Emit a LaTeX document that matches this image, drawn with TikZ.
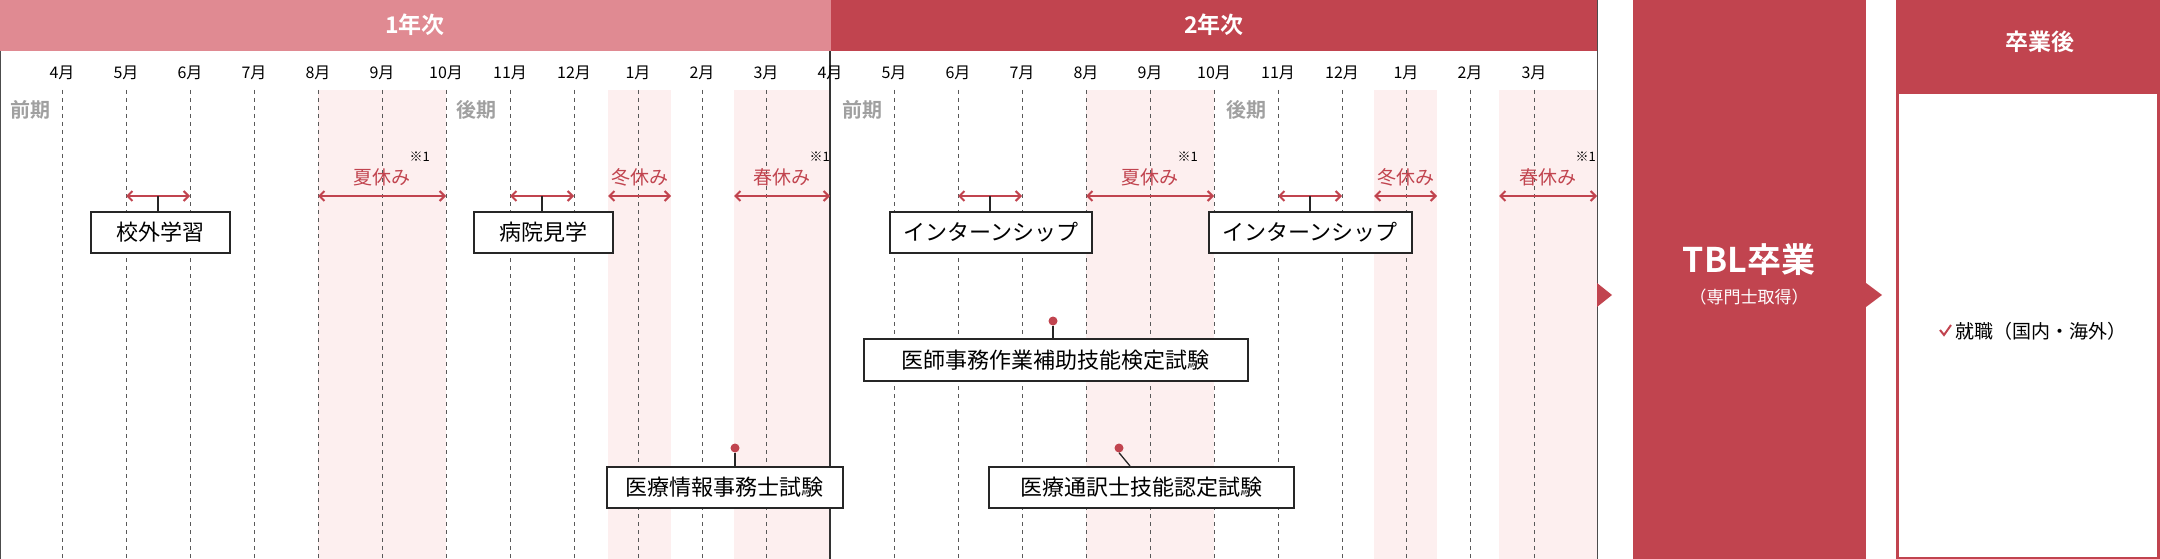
\documentclass[tikz,border=0pt]{standalone}
\usepackage{fontspec}
\setmainfont{Noto Sans CJK JP}
\newfontfamily\jpbold{Noto Sans CJK JP Bold}
\usetikzlibrary{arrows.meta}
\definecolor{lred}{HTML}{E08A92}
\definecolor{dred}{HTML}{C1444F}
\definecolor{pinkbg}{HTML}{FDEFEF}
\definecolor{gtxt}{HTML}{A0A0A0}
\tikzset{
  mon/.style={font=\fontsize{16}{18}\selectfont, anchor=center},
  evbox/.style={draw=black!85, line width=1.5pt, fill=white, font=\fontsize{22}{26}\selectfont, inner sep=0pt, anchor=north west},
  spanl/.style={dred, line width=2pt, {Straight Barb[length=5pt,width=10pt]}-{Straight Barb[length=5pt,width=10pt]}},
  vac/.style={text=dred, font=\fontsize{19}{22}\selectfont},
  note/.style={font=\fontsize{13}{14}\selectfont},
  term/.style={text=gtxt, font=\jpbold\fontsize{20}{22}\selectfont},
  stem/.style={line width=1.3pt, black!85},
  dot/.style={circle, fill=dred, inner sep=0pt, minimum width=7pt, minimum height=9pt},
}
\begin{document}
\begin{tikzpicture}[x=1pt,y=-1pt]
\useasboundingbox (0,0) rectangle (2160,559);
% pink backgrounds
\foreach \a/\b in {318/446,608/671,734/830,1086/1214,1374/1437,1499/1597}
  \fill[pinkbg] (\a,90) rectangle (\b,559);
% headers
\fill[lred] (0,0) rectangle (831,51);
\fill[dred] (831,0) rectangle (1597,51);
\node[text=white, font=\jpbold\fontsize{23}{25}\selectfont] (y1) at (415,25) {1年次};
\node[text=white, font=\jpbold\fontsize{23}{25}\selectfont] (y2) at (1214,25) {2年次};
% borders
\draw[black!70, line width=1pt] (0.5,51) -- (0.5,559);
\draw[black!70, line width=1pt] (1597,0) -- (1597,559);
\draw[black!80, line width=1.2pt] (830,51) -- (830,559);
% months
\foreach \k/\m in {0/4月,1/5月,2/6月,3/7月,4/8月,5/9月,6/10月,7/11月,8/12月,9/1月,10/2月,11/3月,12/4月,13/5月,14/6月,15/7月,16/8月,17/9月,18/10月,19/11月,20/12月,21/1月,22/2月,23/3月}{
  \pgfmathsetmacro{\xx}{62+64*\k}
  \node[mon] (m\k) at (\xx,73) {\m};
  \ifnum\k=12\else
  \draw[black!65, line width=0.9pt, dash pattern=on 4pt off 4pt] (\xx,90) -- (\xx,559);
  \fi
}
\node[term] (t1) at (30,110) {前期};
\node[term] (t2) at (1246,110) {後期};
\node[term] (t3) at (862,110) {前期};
\node[term] (t4) at (476,110) {後期};
% vacations
\foreach \n/\a/\b/\t/\s in {v1/318/446/夏休み/1,v2/608/671/冬休み/0,v3/734/830/春休み/1,v4/1086/1214/夏休み/1,v5/1374/1437/冬休み/0,v6/1499/1597/春休み/1}{
  \coordinate (\n a) at (\a,196);
  \coordinate (\n b) at (\b,196);
  \draw[spanl] (\n a) -- (\n b);
  \node[vac] (\n t) at ({(\a+\b)/2},177) {\t};
  \ifnum\s=1 \node[note, anchor=south west] at ([xshift=-8pt,yshift=0pt]\n t.north east) {※1};\fi
}
% events with arrows
\foreach \n/\a/\b/\bx/\bw/\t in {e1/126/190/90/139/校外学習,e2/510/574/473/139/病院見学,e3/958/1022/889/202/インターンシップ,e4/1278/1342/1208/203/インターンシップ}{
  \coordinate (\n a) at (\a,196);
  \coordinate (\n b) at (\b,196);
  \draw[spanl] (\n a) -- (\n b);
  \node[evbox, minimum width=\bw pt, minimum height=41pt] (\n box) at (\bx,211) {\t};
  \draw[stem] ({(\a+\b)/2},196) -- (\n box.north -| {(\a+\b)/2},0);
}
% exams
\node[evbox, minimum width=384pt, minimum height=42pt] (x1) at (863,338) {医師事務作業補助技能検定試験};
\node[dot] (d1) at (1053,321) {};
\draw[stem] (d1.south) -- (d1.south |- x1.north);
\node[evbox, minimum width=236pt, minimum height=41pt] (x2) at (606,466) {医療情報事務士試験};
\node[dot] (d2) at (735,448) {};
\draw[stem] (d2.south) -- (d2.south |- x2.north);
\node[evbox, minimum width=305pt, minimum height=41pt] (x3) at (988,466) {医療通訳士技能認定試験};
\node[dot] (d3) at (1119,448) {};
\coordinate (c3) at (1130,466);
\draw[stem] (d3.south) -- (c3);
% TBL column
\fill[dred] (1633,0) rectangle (1866,559);
\node[text=white, font=\jpbold\fontsize{34}{36}\selectfont] (tbl) at (1749,260) {TBL卒業};
\node[text=white, font=\fontsize{17}{19}\selectfont] (tbls) at (1749,297) {（専門士取得）};
\fill[dred] (1597,283) -- (1612,295) -- (1597,307) -- cycle;
\fill[dred] (1866,283) -- (1882,295) -- (1866,307) -- cycle;
% after graduation
\fill[dred] (1896,0) rectangle (2160,93);
\node[text=white, font=\jpbold\fontsize{23}{25}\selectfont] (ag) at (2040,42) {卒業後};
\draw[dred, line width=2.5pt] (1897.5,93) rectangle (2158.5,558);
\node[anchor=west, font=\fontsize{19}{22}\selectfont, inner sep=0pt] (job) at (1955,331) {就職（国内・海外）};
\draw[dred, line width=2pt] (1940,330) -- (1944,335) -- (1951,325);
\end{tikzpicture}
\end{document}
